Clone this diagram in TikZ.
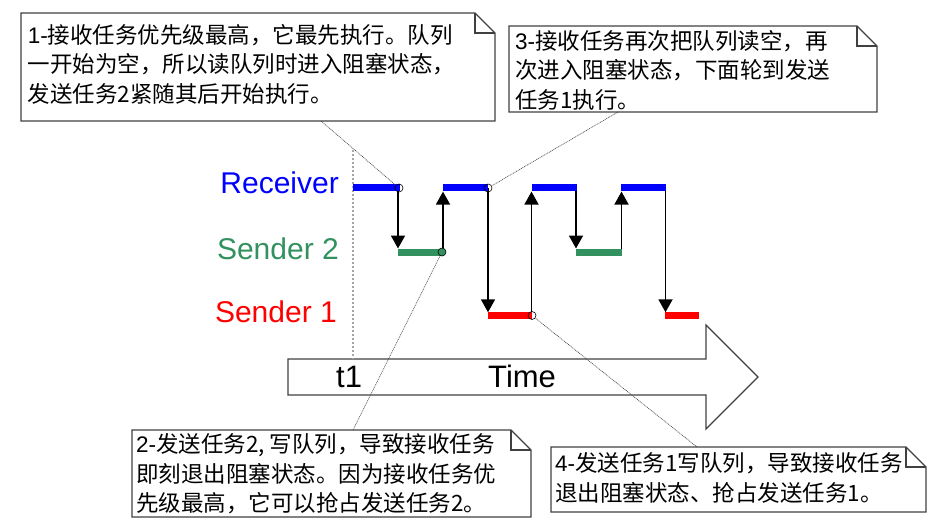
\documentclass[tikz,border=0pt]{standalone}
\usepackage{fontspec}
\setmainfont{Liberation Sans}
\newfontfamily\cjk{Noto Sans CJK SC}
\usetikzlibrary{arrows.meta}
\definecolor{rcv}{RGB}{0,0,255}
\definecolor{sdtwo}{RGB}{50,145,95}
\definecolor{sdone}{RGB}{255,0,0}
\definecolor{edge}{RGB}{64,64,64}
\newcommand\drawnote[1]{%
  \draw[outline] (#1.north west) -- ([xshift=-20pt]#1.north east) -- ([yshift=-20pt]#1.north east) -- (#1.south east) -- (#1.south west) -- cycle;
  \draw[outline] ([xshift=-20pt]#1.north east) -- ([xshift=-20pt,yshift=-20pt]#1.north east) -- ([yshift=-20pt]#1.north east);}
\begin{document}
\begin{tikzpicture}[x=1pt,y=-1pt,
  bar/.style={line width=7pt},
  sig/.style={line width=1.8pt, -{Triangle[length=13pt,width=14pt]}},
  notebox/.style={anchor=north west, inner sep=0pt, outer sep=0pt, draw=none},
  notetext/.style={anchor=north west, inner sep=0pt, align=left, font=\cjk\fontsize{22.5}{29.5}\selectfont, text=black},
  leader/.style={draw=edge, line width=0.6pt, dash pattern=on 1pt off 0.8pt},
  pin/.style={circle, draw=black, line width=0.6pt, inner sep=0pt, minimum size=8pt},
  lab/.style={anchor=base east, font=\fontsize{30}{34}\selectfont, inner sep=0pt},
  axlab/.style={anchor=base west, font=\fontsize{31}{35}\selectfont, inner sep=0pt},
  outline/.style={draw=edge, line width=1.1pt, line join=miter},
  guide/.style={draw=gray!70, line width=1.2pt, dash pattern=on 2pt off 2pt}
]
\useasboundingbox (0,0) rectangle (949,529);

% time arrow
\draw[draw=edge, line width=1.2pt, line join=miter] (288,359) -- (706,359) -- (706,325) -- (758,377) -- (706,429) -- (706,395) -- (288,395) -- cycle;
\node[axlab] (tone) at (336,387) {t1};
\node[axlab] (time) at (488,387) {Time};

% guide line
\coordinate (ga) at (353,150);
\coordinate (gb) at (353,359);
\draw[guide] (ga) -- (gb);

% labels
\node[lab, text=rcv] (lrcv) at (339,194) {Receiver};
\node[lab, text=sdtwo] (lsdtwo) at (339,259) {Sender 2};
\node[lab, text=sdone] (lsdone) at (337,322) {Sender 1};

% arrows
\draw[sig] (398,188) -- (398,248.5);
\draw[sig] (443,252) -- (443,191.6);
\draw[sig] (488,188) -- (488,312.3);
\draw[sig] (531.5,316) -- (531.5,191.6);
\draw[sig] (576,188) -- (576,248.5);
\draw[sig] (621.5,252) -- (621.5,191.6);
\draw[sig] (665.5,188) -- (665.5,312.3);

% bars
\draw[bar, rcv] (353,188) -- (400,188);
\draw[bar, rcv] (443,188) -- (488,188);
\draw[bar, rcv] (532,188) -- (577,188);
\draw[bar, rcv] (621,188) -- (666,188);
\draw[bar, sdtwo] (398,252) -- (443,252);
\draw[bar, sdtwo] (576,252) -- (622,252);
\draw[bar, sdone] (488,315.8) -- (532,315.8);
\draw[bar, sdone] (665,315.8) -- (699,315.8);

% pins
\node[pin] (pa) at (399,188) {};
\node[pin] (pc) at (488,188) {};
\node[pin, fill=sdtwo] (pb) at (442,252) {};
\node[pin] (pd) at (532,315.5) {};

% callout frames
\node[notebox, minimum width=474pt, minimum height=108pt] (na) at (21,13) {};
\node[notebox, minimum width=368pt, minimum height=86pt] (nc) at (509,26) {};
\node[notebox, minimum width=399pt, minimum height=87pt] (nb) at (132,430) {};
\node[notebox, minimum width=375pt, minimum height=65pt] (nd) at (551,447) {};

% leader lines
\coordinate (la) at (321,121);
\coordinate (lc) at (618,112);
\coordinate (lb) at (353,430);
\coordinate (ld) at (697,447);
\draw[leader] (la) -- (pa);
\draw[leader] (lc) -- (pc);
\draw[leader] (lb) -- (pb);
\draw[leader] (ld) -- (pd);

\drawnote{na}
\drawnote{nb}
\drawnote{nc}
\drawnote{nd}

% callout texts
\node[notetext] (ta) at (27.6,22.4) {\strut{\rmfamily 1-}接收任务优先级最高，它最先执行。队列\\一开始为空，所以读队列时进入阻塞状态，\\发送任务2紧随其后开始执行。};
\node[notetext] (tc) at (515,28.4) {\strut{\rmfamily 3-}接收任务再次把队列读空，再\\次进入阻塞状态，下面轮到发送\\任务1执行。};
\node[notetext] (tb) at (136,432) {\strut{\rmfamily 2-}发送任务2, 写队列，导致接收任务\\即刻退出阻塞状态。因为接收任务优\\先级最高，它可以抢占发送任务2。};
\node[notetext] (td) at (555,451) {\strut{\rmfamily 4-}发送任务1写队列，导致接收任务\\退出阻塞状态、抢占发送任务1。};
\end{tikzpicture}
\end{document}
